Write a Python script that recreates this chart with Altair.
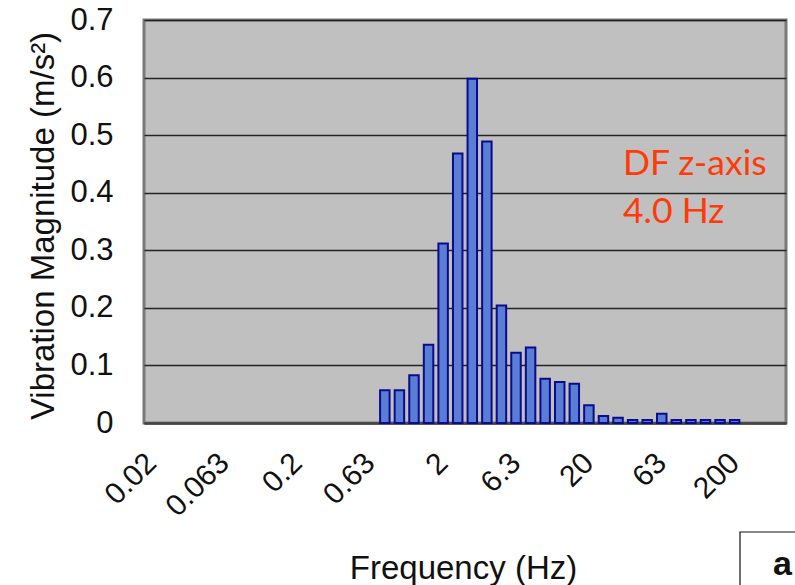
import altair as alt
import pandas as pd

# 1/3-octave band centre frequencies (Hz)
freqs = ["0.02", "0.025", "0.0315", "0.04", "0.05", "0.063", "0.08", "0.1", "0.125", "0.16",
         "0.2", "0.25", "0.315", "0.4", "0.5", "0.63", "0.8", "1", "1.25", "1.6",
         "2", "2.5", "3.15", "4", "5", "6.3", "8", "10", "12.5", "16",
         "20", "25", "31.5", "40", "50", "63", "80", "100", "125", "160",
         "200", "250", "315", "400"]
magnitude = [0, 0, 0, 0, 0, 0, 0, 0, 0, 0,
             0, 0, 0, 0, 0, 0, 0.057, 0.057, 0.083, 0.136,
             0.312, 0.468, 0.598, 0.489, 0.204, 0.122, 0.131, 0.077, 0.071, 0.068,
             0.031, 0.012, 0.009, 0.005, 0.005, 0.016, 0.005, 0.005, 0.005, 0.005,
             0.005, 0, 0, 0]
shown_ticks = ["0.02", "0.063", "0.2", "0.63", "2", "6.3", "20", "63", "200"]
y_ticks = [0, 0.1, 0.2, 0.3, 0.4, 0.5, 0.6, 0.7]
note_line1 = ["DF z-axis"]
note_line2 = ["4.0 Hz"]
panel_label = ["a"]

df = pd.DataFrame({"freq": freqs, "value": magnitude})

W, H = 642, 403
FONT = "Liberation Sans"

bars = alt.Chart(df).transform_filter("datum.value > 0").mark_bar(
    fill="#5A7ED6", stroke="#0B0B8C", strokeWidth=2
).encode(
    x=alt.X("freq:N", sort=freqs,
            scale=alt.Scale(domain=freqs, paddingInner=0.35, paddingOuter=0.2),
            axis=alt.Axis(values=shown_ticks, labelAngle=-45, labelAlign="right",
                          labelBaseline="middle", labelPadding=35, ticks=False,
                          labelFontSize=30, labelFont=FONT, labelColor="#111",
                          domain=True, domainColor="#444", domainWidth=2.5,
                          title="Frequency (Hz)", titleFont=FONT, titleFontSize=33,
                          titleFontWeight="normal", titleColor="#111",
                          titleBaseline="alphabetic", titleY=155, titleX=W / 2 - 2)),
    y=alt.Y("value:Q", scale=alt.Scale(domain=[0, 0.7], nice=False),
            axis=alt.Axis(values=y_ticks, grid=True, gridColor="#242424", gridWidth=1.7,
                          ticks=False, domain=False, labelPadding=31,
                          labelExpr="datum.value == 0 ? '0' : format(datum.value, '.1f')",
                          labelFontSize=31, labelFont=FONT, labelColor="#111",
                          title="Vibration Magnitude (m/s²)", titleFont=FONT,
                          titleFontSize=33, titleFontWeight="normal", titleColor="#111",
                          titleAngle=-90, titleBaseline="alphabetic",
                          titleX=-91, titleY=H / 2 + 4, titleAlign="center")),
)

note1 = alt.Chart(pd.DataFrame({"text": note_line1})).mark_text(
    align="left", baseline="alphabetic", font="Lato", fontSize=35.5, color="#FF3A0A"
).encode(x=alt.value(479), y=alt.value(155), text="text:N")

note2 = alt.Chart(pd.DataFrame({"text": note_line2})).mark_text(
    align="left", baseline="alphabetic", font="Lato", fontSize=35.5, color="#FF3A0A"
).encode(x=alt.value(479), y=alt.value(203), text="text:N")

box = alt.Chart(pd.DataFrame({"t": panel_label})).mark_rect(
    fill="white", stroke="#111", strokeWidth=1.2
).encode(x=alt.value(596), x2=alt.value(665), y=alt.value(512), y2=alt.value(580))

letter = alt.Chart(pd.DataFrame({"t": panel_label})).mark_text(
    align="left", baseline="alphabetic", font=FONT, fontSize=34, fontWeight="bold", color="#111"
).encode(x=alt.value(629), y=alt.value(555), text="t:N")

chart = alt.layer(bars, note1, note2, box, letter).properties(
    width=W, height=H,
    autosize=alt.AutoSizeParams(type="none"),
    padding={"left": 144, "top": 20, "right": 9, "bottom": 162},
    background="white",
).configure_view(fill="#C0C0C0", stroke="#7a7a7a", strokeWidth=3)

chart.save("out.html", embed_options={"renderer": "svg", "actions": False})
